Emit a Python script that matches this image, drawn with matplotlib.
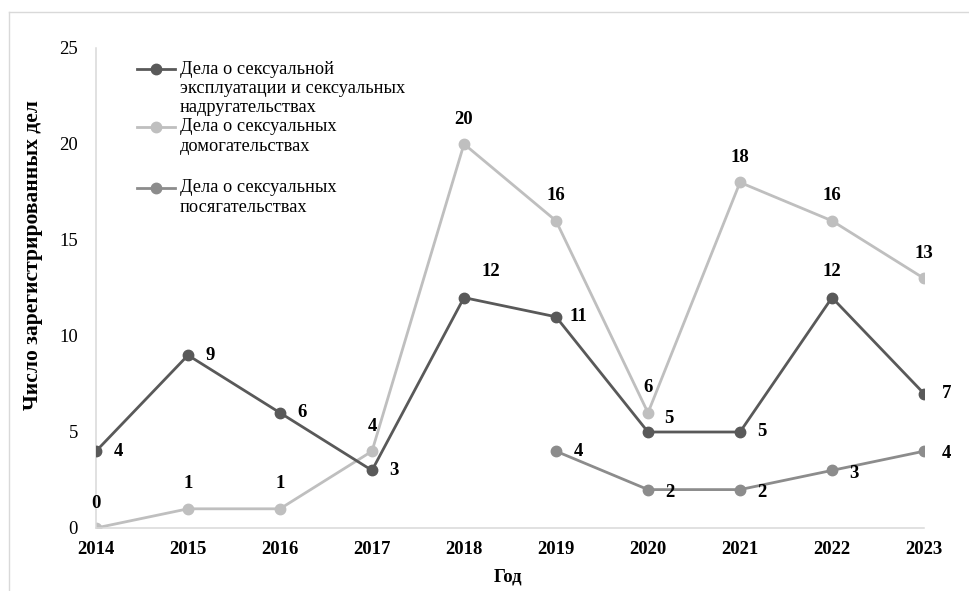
import matplotlib
matplotlib.use("Agg")
import matplotlib.pyplot as plt
from matplotlib.lines import Line2D

years = [2014, 2015, 2016, 2017, 2018, 2019, 2020, 2021, 2022, 2023]
exploitation = [4, 9, 6, 3, 12, 11, 5, 5, 12, 7]
harassment = [0, 1, 1, 4, 20, 16, 6, 18, 16, 13]
assault_years = [2019, 2020, 2021, 2022, 2023]
assault = [4, 2, 2, 3, 4]

labels = [
    ["Дела о сексуальной", "эксплуатации и сексуальных", "надругательствах"],
    ["Дела о сексуальных", "домогательствах"],
    ["Дела о сексуальных", "посягательствах"],
]
y_ticks = [0, 5, 10, 15, 20, 25]
x_title = "Год"
y_title = "Число зарегистрированных дел"

c_dark = "#595959"
c_light = "#BFBFBF"
c_mid = "#8C8C8C"
serif = ["Liberation Serif", "DejaVu Serif"]
plt.rcParams["font.family"] = serif

W, H = 970, 591
fig = plt.figure(figsize=(W / 100, H / 100), dpi=100)
ax = fig.add_axes([96 / W, 63 / H, 828 / W, 480 / H])

lw, ms = 2.0, 7.5
ax.plot(years, exploitation, color=c_dark, lw=lw, marker="o", ms=ms, zorder=3)
ax.plot(years, harassment, color=c_light, lw=lw, marker="o", ms=ms, zorder=2)
ax.plot(assault_years, assault, color=c_mid, lw=lw, marker="o", ms=ms, zorder=3)

fs = 13.5
def lab(x, y, dx, dy, ha="center"):
    ax.annotate(str(y), (x, y), xytext=(dx, dy), textcoords="offset points",
                ha=ha, va="center", fontsize=fs, fontweight="bold", color="black")

R = 16
for i, (x, y) in enumerate(zip(years, exploitation)):
    if x == 2018:
        lab(x, y, 19, 19)
    elif x == 2022:
        lab(x, y, 0, 19)
    elif x == 2020:
        lab(x, y, 15, 10)
    else:
        lab(x, y, R, 0)
for x, y in zip(years, harassment):
    lab(x, y, 0, 18)
for x, y in zip(assault_years, assault):
    if x == 2019:
        lab(x, y, R, 0)
    else:
        lab(x, y, R, -2)

ax.set_xlim(2014, 2023)
ax.set_ylim(0, 25)
ax.set_xticks(years)
ax.set_xticklabels([str(y) for y in years], fontweight="bold", fontsize=fs)
ax.set_yticks(y_ticks)
ax.set_yticklabels([str(t) for t in y_ticks], fontsize=fs)
ax.tick_params(axis="both", length=0)
ax.tick_params(axis="y", pad=13)
ax.tick_params(axis="x", pad=9)
for s in ["top", "right"]:
    ax.spines[s].set_visible(False)
for s in ["left", "bottom"]:
    ax.spines[s].set_color("#D9D9D9")
    ax.spines[s].set_linewidth(1.1)

fig.text(508 / W, 1 - 577 / H, x_title, ha="center", va="center",
         fontsize=fs, fontweight="bold")
fig.text(33 / W, 1 - 255 / H, y_title, ha="center", va="center",
         rotation=90, fontsize=15.5, fontweight="bold")

# manual legend (Excel style, marker aligned with first line)
entry_tops = [69, 127, 188]
colors = [c_dark, c_light, c_mid]
for top, col, lines in zip(entry_tops, colors, labels):
    fig.add_artist(Line2D([137 / W, 175 / W], [1 - top / H, 1 - top / H],
                          color=col, lw=lw, transform=fig.transFigure))
    fig.add_artist(Line2D([156 / W], [1 - top / H], color=col, marker="o",
                          ms=ms, lw=0, transform=fig.transFigure))
    for k, t in enumerate(lines):
        fig.text(180 / W, 1 - (top + 19.5 * k) / H, t, ha="left",
                 va="center", fontsize=13.2)

# outer border (top and left)
fig.add_artist(Line2D([9 / W, 1], [1 - 12 / H, 1 - 12 / H], color="#D9D9D9",
                      lw=1.0, transform=fig.transFigure))
fig.add_artist(Line2D([9 / W, 9 / W], [0, 1 - 12 / H], color="#D9D9D9",
                      lw=1.0, transform=fig.transFigure))

fig.savefig("out.png", dpi=100)
